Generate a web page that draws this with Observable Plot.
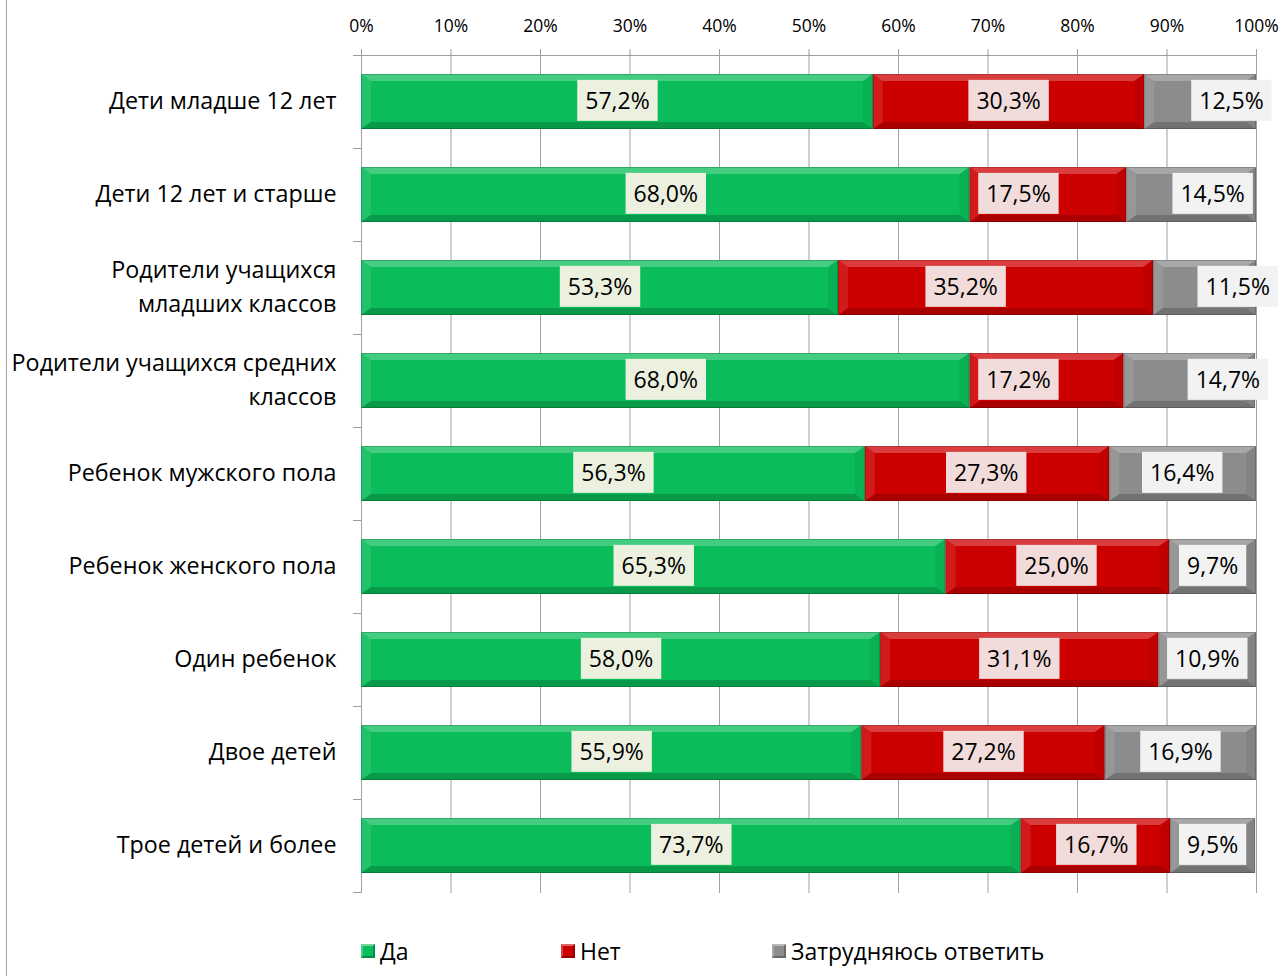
<!DOCTYPE html>
<html><head><meta charset="utf-8">
<script src="https://cdn.jsdelivr.net/npm/d3@7"></script>
<script src="https://cdn.jsdelivr.net/npm/@observablehq/plot@0.6"></script>
<style>
body{margin:0;background:#fff;font-family:"Open Sans",sans-serif;}
#wrap{position:relative;width:1281px;height:976px;overflow:hidden;background:#fff;}
#edge{position:absolute;left:6px;top:0;width:1px;height:976px;background:#a6a6a6;}
#chart{position:absolute;left:0;top:0;}
#legend{position:absolute;left:0;top:931px;width:1281px;height:40px;font-size:23px;color:#000;}
.item{position:absolute;top:0;display:flex;align-items:center;height:40px;white-space:nowrap;}
.sw{width:14px;height:14px;margin-right:5px;box-sizing:border-box;}
</style></head><body>
<div id="wrap"><div id="edge"></div><div id="chart"></div><div id="legend"></div></div>
<script>
const categories = [
  "Дети младше 12 лет",
  "Дети 12 лет и старше",
  "Родители учащихся\nмладших классов",
  "Родители учащихся средних\nклассов",
  "Ребенок мужского пола",
  "Ребенок женского пола",
  "Один ребенок",
  "Двое детей",
  "Трое детей и более"
];
const seriesNames = ["Да", "Нет", "Затрудняюсь ответить"];
const yes  = [57.2, 68.0, 53.3, 68.0, 56.3, 65.3, 58.0, 55.9, 73.7];
const no   = [30.3, 17.5, 35.2, 17.2, 27.3, 25.0, 31.1, 27.2, 16.7];
const hard = [12.5, 14.5, 11.5, 14.7, 16.4,  9.7, 10.9, 16.9,  9.5];
// label anchors (in % units) as placed in the original
const noLabelAt   = [72.3, 73.4, 67.5, 73.4, 69.8, 77.65, 73.5, 69.5, 82.1];
const hardLabelAt = [97.2, 95.1, 97.9, 96.8, 91.7, 95.1, 94.5, 91.5, 95.1];
const xTicks = [0, 10, 20, 30, 40, 50, 60, 70, 80, 90, 100];

const colors = ["#0abc5a", "#cd0000", "#8c8c8c"];
const labelBg = ["#ebf1de", "#f2dcdb", "#f2f2f2"];
const fmt = v => v.toFixed(1).replace(".", ",") + "%";

const table = [];
categories.forEach((c, i) => {
  table.push({cat: c, series: seriesNames[0], value: yes[i], at: yes[i] / 2});
  table.push({cat: c, series: seriesNames[1], value: no[i], at: noLabelAt[i]});
  table.push({cat: c, series: seriesNames[2], value: hard[i], at: hardLabelAt[i]});
});

const sepMark = (index, scales, values, dims) => {
  const y = scales.y;
  const step = y(categories[1]) - y(categories[0]);
  const ys = categories.map(c => y(c)).concat([y(categories[categories.length - 1]) + step]);
  const g = d3.create("svg:g").attr("stroke", "#a0a0a0").attr("stroke-width", 1);
  const xl = dims.marginLeft;
  ys.forEach(v => {
    g.append("line").attr("x1", xl - 8).attr("x2", xl).attr("y1", Math.round(v) + 0.5).attr("y2", Math.round(v) + 0.5);
  });
  g.append("line").attr("x1", xl).attr("x2", dims.width - dims.marginRight)
    .attr("y1", Math.round(ys[0]) + 0.5).attr("y2", Math.round(ys[0]) + 0.5);
  return g.node();
};

const chart = Plot.plot({
  width: 1281, height: 920,
  marginLeft: 361, marginRight: 25, marginTop: 54, marginBottom: 27,
  style: {fontFamily: '"Open Sans", sans-serif', background: "transparent", color: "#000"},
  x: {domain: [0, 100]},
  y: {domain: categories, padding: 0},
  color: {domain: seriesNames, range: colors},
  marks: [
    Plot.gridX(xTicks, {stroke: "#a0a0a0", strokeOpacity: 1}),
    Plot.axisX(xTicks, {anchor: "top", tickSize: 6, tickPadding: 17, tickFormat: d => d + "%",
      fontSize: 17.5, stroke: "#a0a0a0", fill: "#000", label: null}),
    Plot.axisY({tickSize: 0, tickPadding: 25, fontSize: 23.3, fill: "#000", lineHeight: 1.45, dy: -4, label: null}),
    sepMark,
    Plot.ruleX([0], {stroke: "#a0a0a0"}),
    Plot.barX(table, Plot.stackX({x: "value", y: "cat", fill: "series", insetTop: 19, insetBottom: 19})),
    ...seriesNames.map((s, k) => Plot.text(table.filter(d => d.series === s), {
      x: "at", y: "cat", text: d => fmt(d.value), fontSize: 23, fill: "#000"
    }))
  ]
});
document.getElementById("chart").append(chart);

// bevel overlays on bars
const svg = d3.select(chart);
svg.selectAll('g[aria-label="bar"] rect').each(function () {
  const r = d3.select(this);
  const x = +r.attr("x"), y = +r.attr("y"), w = +r.attr("width"), h = +r.attr("height");
  const g = d3.select(this.parentNode);
  const b = 10, t = 7;
  const poly = (pts, fill, op) => g.append("polygon").attr("points", pts.map(p => p.join(",")).join(" "))
    .attr("fill", fill).attr("fill-opacity", op).attr("stroke", "none");
  poly([[x, y], [x + w, y], [x + w - b, y + t], [x + b, y + t]], "#fff", 0.24);
  poly([[x, y], [x + b, y + t], [x + b, y + h - t], [x, y + h]], "#fff", 0.1);
  poly([[x, y + h], [x + b, y + h - t], [x + w - b, y + h - t], [x + w, y + h]], "#000", 0.18);
  poly([[x + w, y], [x + w - b, y + t], [x + w - b, y + h - t], [x + w, y + h]], "#000", 0.06);
  g.append("rect").attr("x", x + 0.5).attr("y", y + 0.5).attr("width", Math.max(0, w - 1)).attr("height", h - 1)
    .attr("fill", "none").attr("stroke", "#000").attr("stroke-opacity", 0.18);
});

// label boxes
svg.selectAll('g[aria-label="text"]').each(function (_, k) {
  d3.select(this).selectAll("text").each(function () {
    const bb = this.getBBox();
    const cy = bb.y + bb.height / 2;
    const rect = document.createElementNS("http://www.w3.org/2000/svg", "rect");
    rect.setAttribute("x", bb.x - 8);
    rect.setAttribute("y", cy - 20.5);
    rect.setAttribute("width", bb.width + 16);
    rect.setAttribute("height", 41);
    rect.setAttribute("fill", labelBg[k]);
    rect.setAttribute("stroke", "none");
    const tr = this.getAttribute("transform");
    if (tr) rect.setAttribute("transform", tr);
    this.parentNode.insertBefore(rect, this);
  });
});

// legend
const legendX = [361, 561, 772];
const lg = document.getElementById("legend");
seriesNames.forEach((s, k) => {
  const it = document.createElement("div");
  it.className = "item";
  it.style.left = legendX[k] + "px";
  const sw = document.createElement("div");
  sw.className = "sw";
  sw.style.background = colors[k];
  sw.style.border = "2px solid rgba(0,0,0,0.25)";
  sw.style.borderTopColor = "rgba(255,255,255,0.4)";
  sw.style.borderLeftColor = "rgba(255,255,255,0.25)";
  const tx = document.createElement("span");
  tx.textContent = s;
  it.append(sw, tx);
  lg.append(it);
});
</script>
</body></html>
